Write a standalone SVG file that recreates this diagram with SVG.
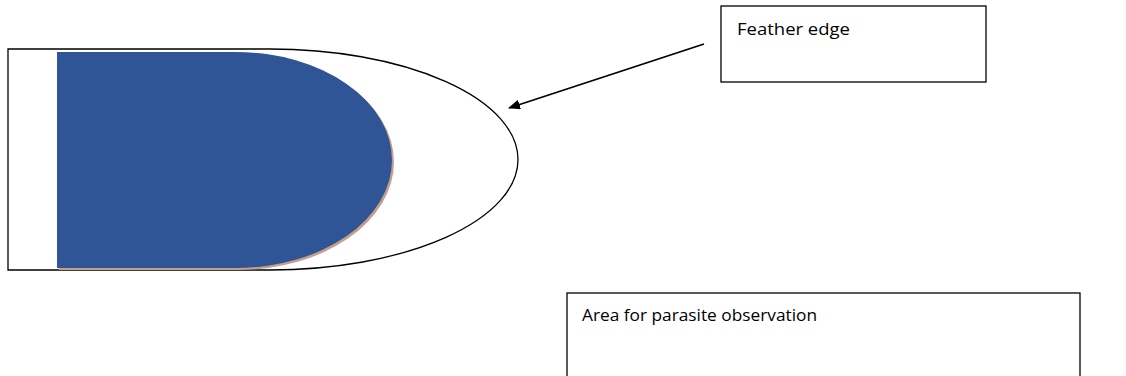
<svg xmlns="http://www.w3.org/2000/svg" width="1126" height="376" viewBox="0 0 1126 376">
<style>
.box{fill:#fff;stroke:#000;stroke-width:1.3}
.lbl{font-family:"Open Sans","Liberation Sans",sans-serif;font-size:17px;fill:#000}
</style>
<defs>
<marker id="ah" markerWidth="12" markerHeight="10" refX="11" refY="5" orient="auto" markerUnits="userSpaceOnUse" viewBox="0 0 12 10">
<path d="M0,0 L12,5 L0,10 Z" fill="#000"/>
</marker>
</defs>
<rect width="1126" height="376" fill="#fff"/>
<g id="slide">
<path d="M8,49 H270 A248,110.5 0 0 1 270,270 H8 Z" fill="#fff" stroke="#000" stroke-width="1.3"/>
</g>
<g id="smear">
<path d="M59,54 H238 A156,108 0 0 1 238,270 H59 Z" fill="#C4A08A"/>
<path d="M57,52 H236 A156,108 0 0 1 236,268 H57 Z" fill="#2F5597"/>
</g>
<g id="feather-edge">
<rect class="box" x="721" y="6" width="265" height="76"/>
<text class="lbl" x="737" y="35" textLength="113" lengthAdjust="spacingAndGlyphs">Feather edge</text>
</g>
<g id="observation-area">
<rect class="box" x="567" y="293" width="513" height="100"/>
<text class="lbl" x="582" y="321" textLength="235" lengthAdjust="spacingAndGlyphs">Area for parasite observation</text>
</g>
<g id="connectors">
<line x1="704" y1="44" x2="509" y2="108" stroke="#000" stroke-width="1.8" marker-end="url(#ah)"/>
</g>
</svg>
